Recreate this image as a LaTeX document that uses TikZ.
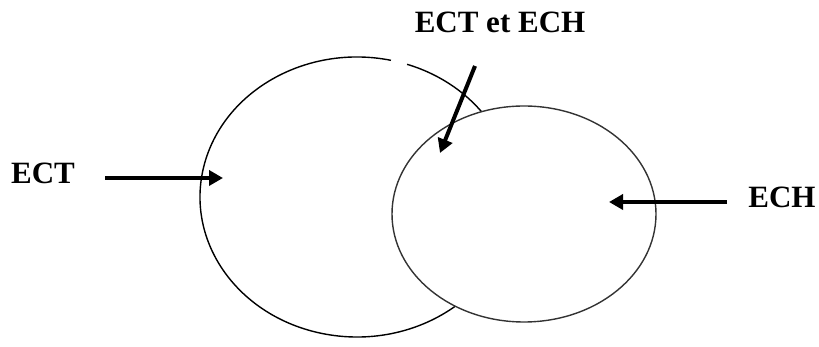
\documentclass[tikz,border=0pt]{standalone}
\usepackage{fontspec}
\setmainfont{Liberation Serif}
\usetikzlibrary{arrows.meta,positioning,shapes.geometric}
\tikzset{
  lbl/.style={font=\fontsize{31}{37}\selectfont\bfseries, inner sep=0pt},
  ring/.style={line width=1.4pt},
  arrw/.style={-{Triangle[length=14pt, width=15pt]}, line width=4pt},
}

\begin{document}
\begin{tikzpicture}[x=1pt, y=1pt]
  \useasboundingbox (0,0) rectangle (819,347);

  % big set (ECT), with the small break at its top
  \draw[ring] (357,150) ++(77.5:157 and 140)
    arc[start angle=77.5, end angle=431.4, x radius=157, y radius=140];
  % small set (ECH), drawn over it
  \node[ellipse, draw=black!80, fill=white, ring, minimum width=264,
        minimum height=216, inner sep=0pt] (ech set) at (524,133) {};

  \node[lbl] (ect) at (43,174) {ECT};
  \node[lbl] (ech) at (782,150) {ECH};
  \node[lbl] (both) at (500,325) {ECT et ECH};

  \coordinate (ect from) at (105,169);
  \coordinate (ect to) at (223,169);
  \coordinate (ech from) at (727,145);
  \coordinate (ech to) at (609,145);
  \coordinate (both from) at (475,281);
  \coordinate (both to) at (440,194);

  \draw[arrw] (ect from) -- (ect to);
  \draw[arrw] (ech from) -- (ech to);
  \draw[arrw] (both from) -- (both to);
\end{tikzpicture}
\end{document}
